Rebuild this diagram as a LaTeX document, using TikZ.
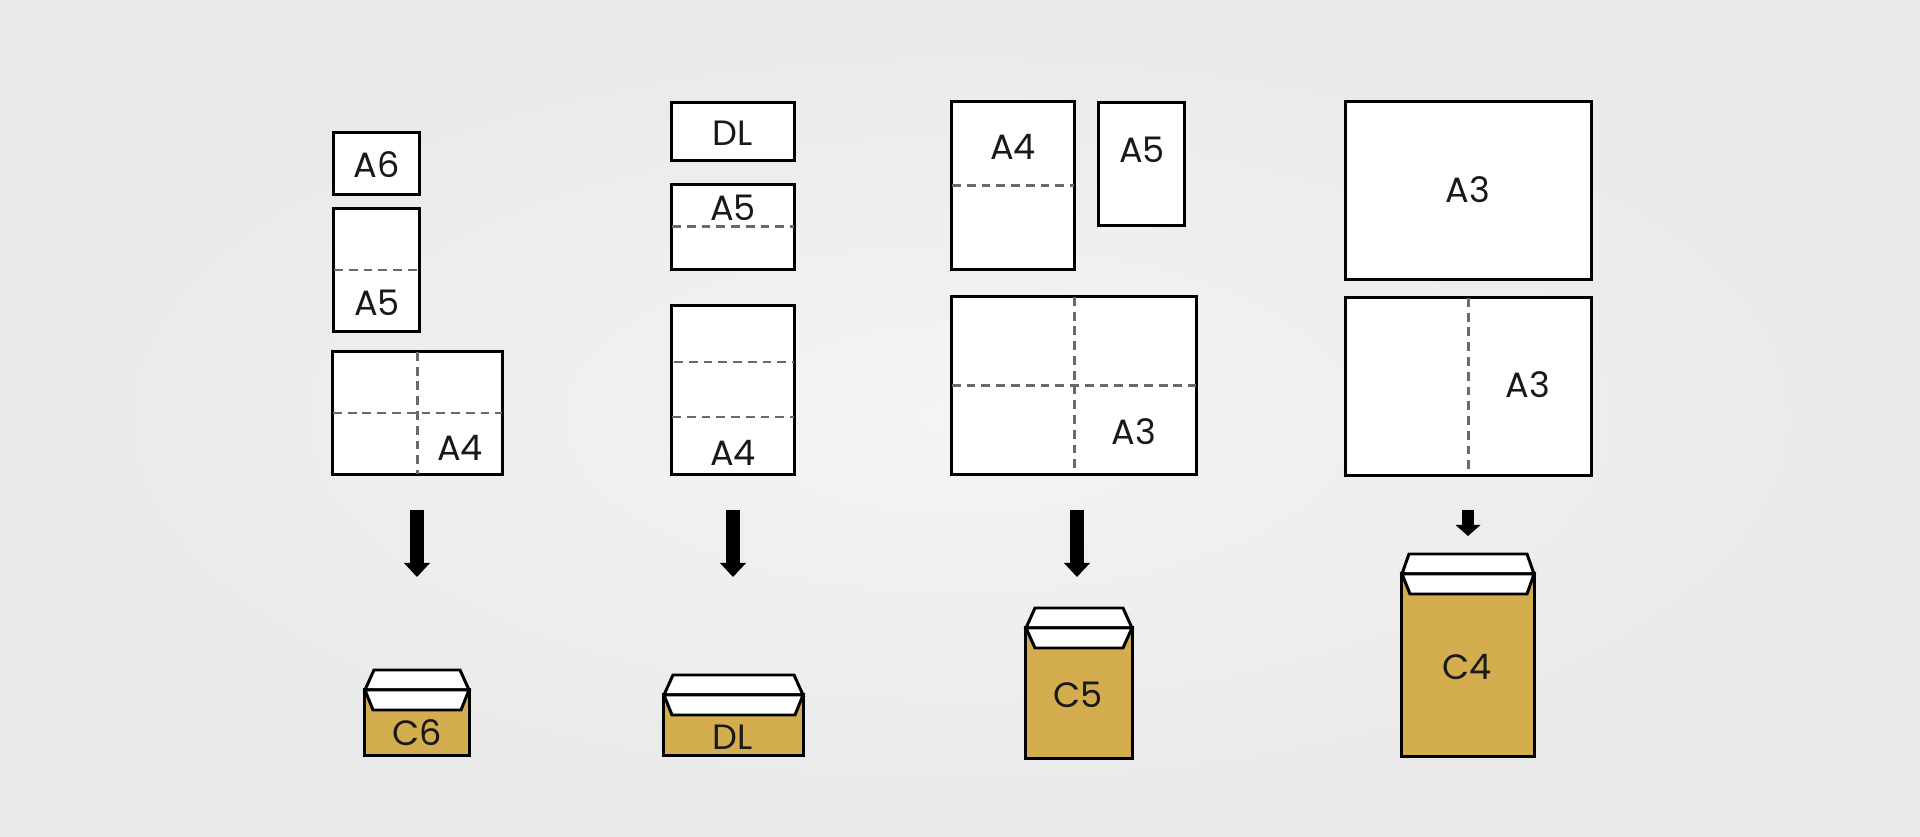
\documentclass[tikz,border=0pt]{standalone}
\usepackage{fontspec}
\setmainfont{Poppins}
\usetikzlibrary{arrows.meta}
\definecolor{env}{RGB}{212,173,78}
\definecolor{fold}{RGB}{105,105,105}
\definecolor{bgin}{RGB}{244,244,244}
\definecolor{bgout}{RGB}{233,233,233}
\begin{document}
\begin{tikzpicture}[x=0.01cm,y=-0.01cm,
  sheet/.style={draw=black, fill=white, line width=0.85pt, inner sep=0pt, outer sep=0pt},
  foldline/.style={draw=fold, line width=0.85pt, dash pattern=on 2.5pt off 1.7pt},
  lbl/.style={font=\fontsize{10}{11}\selectfont, inner sep=0pt, text=black!90},
  envbody/.style={draw=black, fill=env, line width=0.85pt, inner sep=0pt, outer sep=0pt},
  flap/.style={draw=black, fill=white, line width=0.85pt, line join=miter},
  bigarrow/.style={draw=black, line width=0.14cm, -{Triangle[length=0.14cm,width=0.26cm,line width=0pt]}},
  smallarrow/.style={draw=black, line width=0.12cm, -{Triangle[length=0.11cm,width=0.25cm,line width=0pt]}}]

\shade[inner color=bgin, outer color=bgout] (0,0) rectangle (1920,837);
\useasboundingbox (0,0) rectangle (1920,837);

% ---------- column 1 ----------
\node[sheet, minimum width=0.85cm, minimum height=0.61cm] (c1a6) at (376.5,163.5) {};
\node[sheet, minimum width=0.85cm, minimum height=1.22cm] (c1a5) at (376.5,270) {};
\node[sheet, minimum width=1.69cm, minimum height=1.22cm] (c1a4) at (417.5,413) {};
\draw[foldline] (c1a5.west) -- (c1a5.east);
\draw[foldline] (c1a4.west) -- (c1a4.east);
\draw[foldline] (c1a4.north) -- (c1a4.south);
\node[lbl] (l1a6) at (377,165) {A6};
\node[lbl] (l1a5) at (377,303) {A5};
\node[lbl] (l1a4) at (460,448) {A4};

% ---------- column 2 ----------
\node[sheet, minimum width=1.22cm, minimum height=0.57cm] (c2dl) at (733,131.5) {};
\node[sheet, minimum width=1.22cm, minimum height=0.84cm] (c2a5) at (733,227) {};
\node[sheet, minimum width=1.22cm, minimum height=1.68cm] (c2a4) at (733,390) {};
\draw[foldline] (c2a5.west) -- (c2a5.east);
\coordinate (f2a) at (674,362); \coordinate (f2b) at (794,362);
\coordinate (f2c) at (672,417); \coordinate (f2d) at (794,417);
\draw[foldline] (f2a) -- (f2b);
\draw[foldline] (f2c) -- (f2d);
\node[lbl] (l2dl) at (733,133) {DL};
\node[lbl] (l2a5) at (733,208) {A5};
\node[lbl] (l2a4) at (733,453) {A4};

% ---------- column 3 ----------
\node[sheet, minimum width=1.22cm, minimum height=1.67cm] (c3a4) at (1013,185.5) {};
\node[sheet, minimum width=0.85cm, minimum height=1.22cm] (c3a5) at (1141.5,164) {};
\node[sheet, minimum width=2.44cm, minimum height=1.77cm] (c3a3) at (1074,385.5) {};
\draw[foldline] (c3a4.west) -- (c3a4.east);
\draw[foldline] (c3a3.west) -- (c3a3.east);
\draw[foldline] (c3a3.north) -- (c3a3.south);
\node[lbl] (l3a4) at (1013,147) {A4};
\node[lbl] (l3a5) at (1142,150) {A5};
\node[lbl] (l3a3) at (1134,432) {A3};

% ---------- column 4 ----------
\node[sheet, minimum width=2.45cm, minimum height=1.77cm] (c4top) at (1468.5,190.5) {};
\node[sheet, minimum width=2.45cm, minimum height=1.77cm] (c4bot) at (1468.5,386.5) {};
\draw[foldline] (c4bot.north) -- (c4bot.south);
\node[lbl] (l4top) at (1468,190) {A3};
\node[lbl] (l4bot) at (1528,385) {A3};

% ---------- arrows ----------
\coordinate (ar1s) at (417,510);  \coordinate (ar1e) at (417,577);
\coordinate (ar2s) at (733,510);  \coordinate (ar2e) at (733,577);
\coordinate (ar3s) at (1077,510); \coordinate (ar3e) at (1077,577);
\coordinate (ar4s) at (1468,510); \coordinate (ar4e) at (1468,536);
\draw[bigarrow] (ar1s) -- (ar1e);
\draw[bigarrow] (ar2s) -- (ar2e);
\draw[bigarrow] (ar3s) -- (ar3e);
\draw[smallarrow] (ar4s) -- (ar4e);

% ---------- envelopes ----------
% C6
\node[envbody, minimum width=1.04cm, minimum height=0.65cm] (eC6) at (417,722.5) {};
\draw[flap] (eC6.north west) -- (374,670) -- (460,670) -- (eC6.north east) -- cycle;
\draw[flap] (eC6.north west) -- (eC6.north east) -- (461,710) -- (373,710) -- cycle;
\node[lbl] (lC6) at (417,733) {C6};
% DL
\node[envbody, minimum width=1.39cm, minimum height=0.60cm] (eDL) at (733.5,725) {};
\draw[flap] (eDL.north west) -- (673,675) -- (794,675) -- (eDL.north east) -- cycle;
\draw[flap] (eDL.north west) -- (eDL.north east) -- (795,715) -- (672,715) -- cycle;
\node[lbl] (lDL) at (733,737) {DL};
% C5
\node[envbody, minimum width=1.06cm, minimum height=1.30cm] (eC5) at (1079,693) {};
\draw[flap] (eC5.north west) -- (1035,608) -- (1123,608) -- (eC5.north east) -- cycle;
\draw[flap] (eC5.north west) -- (eC5.north east) -- (1123,648) -- (1035,648) -- cycle;
\node[lbl] (lC5) at (1078,695) {C5};
% C4
\node[envbody, minimum width=1.32cm, minimum height=1.82cm] (eC4) at (1468,665) {};
\draw[flap] (eC4.north west) -- (1409,554) -- (1527,554) -- (eC4.north east) -- cycle;
\draw[flap] (eC4.north west) -- (eC4.north east) -- (1527,594) -- (1410,594) -- cycle;
\node[lbl] (lC4) at (1467,667) {C4};
\end{tikzpicture}
\end{document}
